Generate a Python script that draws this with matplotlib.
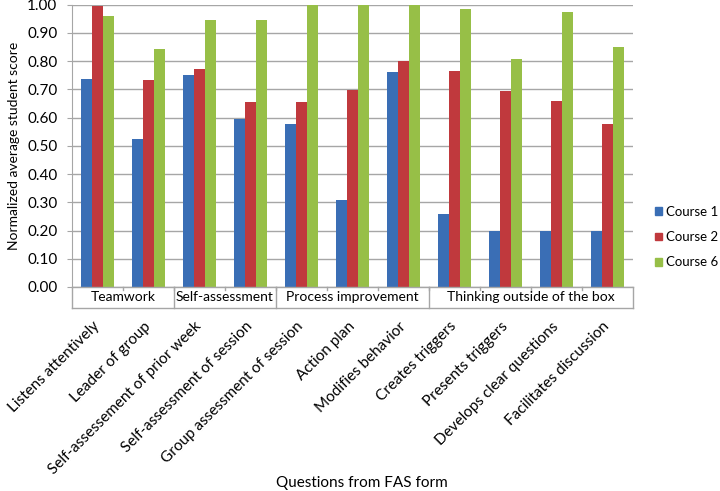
# FAS form scores by course

import numpy as np
import matplotlib.pyplot as plt
from matplotlib.patches import Patch
from matplotlib.transforms import ScaledTranslation

plt.rcParams['font.family'] = ['Lato', 'DejaVu Sans']

# data
questions = ['Listens attentively', 'Leader of group', 'Self-assessement of prior week',
             'Self-assessment of session', 'Group assessment of session', 'Action plan',
             'Modifies behavior', 'Creates triggers', 'Presents triggers',
             'Develops clear questions', 'Facilitates discussion']
groups = ['Teamwork', 'Self-assessment', 'Process improvement', 'Thinking outside of the box']
group_sizes = [2, 2, 3, 4]

course1 = [0.737, 0.525, 0.751, 0.595, 0.579, 0.308, 0.760, 0.260, 0.200, 0.200, 0.200]
course2 = [0.995, 0.732, 0.771, 0.657, 0.657, 0.698, 0.800, 0.764, 0.693, 0.658, 0.576]
course6 = [0.960, 0.842, 0.944, 0.944, 1.000, 1.000, 1.000, 0.983, 0.806, 0.975, 0.850]
series_names = ['Course 1', 'Course 2', 'Course 6']
colors = ['#3A6EB5', '#C0393D', '#97BF47']

fig = plt.figure(figsize=(7.2, 4.91), dpi=100)
ax = fig.add_axes([0.1, 0.4155, 0.779, 0.575])

x = np.arange(len(questions))
w = 0.215
for i, (vals, c) in enumerate(zip([course1, course2, course6], colors)):
    ax.bar(x + (i - 1) * w, vals, width=w, color=c, zorder=3)

ax.set_xlim(-0.5, len(questions) - 0.5)
ax.set_ylim(0, 1)
ax.set_yticks(np.arange(0, 1.01, 0.1))
ax.set_yticklabels([f'{v:.2f}' for v in np.arange(0, 1.01, 0.1)], fontsize=11)
ax.yaxis.grid(True, color='#a6a6a6', linewidth=1, zorder=0)
ax.tick_params(axis='y', length=3.6, color='#a6a6a6', pad=7)
for s in ['top', 'right', 'bottom']:
    ax.spines[s].set_visible(False)
ax.spines['left'].set_color('#a6a6a6')

# x labels
ax.set_xticks(x)
ax.set_xticklabels(questions, rotation=45, ha='right', va='top',
                   rotation_mode='anchor', fontsize=11)
ax.tick_params(axis='x', length=0, pad=24)
shift = ScaledTranslation(-5 / 100, 1 / 100, fig.dpi_scale_trans)
for lbl in ax.get_xticklabels():
    lbl.set_transform(lbl.get_transform() + shift)

# category table under the axis
trans = ax.get_xaxis_transform()
tbl = -0.074
ax.plot([-0.5, len(questions) - 0.5], [0, 0], color='#a6a6a6', lw=1, transform=trans, clip_on=False, zorder=4)
ax.plot([-0.5, len(questions) - 0.5], [tbl, tbl], color='#a6a6a6', lw=1, transform=trans, clip_on=False)
for b in np.arange(0.5, len(questions) - 1, 1):
    ax.plot([b, b], [0, -0.012], color='#a6a6a6', lw=1, transform=trans, clip_on=False)
start = -0.5
edges = [start]
for g, n in zip(groups, group_sizes):
    ax.text(start + n / 2, tbl / 2, g, transform=trans, ha='center', va='center', fontsize=10)
    start += n
    edges.append(start)
for e in edges:
    ax.plot([e, e], [0, tbl], color='#a6a6a6', lw=1, transform=trans, clip_on=False)

ax.set_ylabel('Normalized average student score', fontsize=10, labelpad=5)
fig.text(0.502, 1 - 483 / 491, 'Questions from FAS form', ha='center', va='center', fontsize=11)

handles = [Patch(color=c) for c in colors]
fig.legend(handles, series_names, loc='center left', bbox_to_anchor=(0.893, 0.517),
           frameon=False, fontsize=9.5, handlelength=0.55, handleheight=0.55,
           handletextpad=0.3, labelspacing=1.0)

plt.savefig('out.png', dpi=100)
